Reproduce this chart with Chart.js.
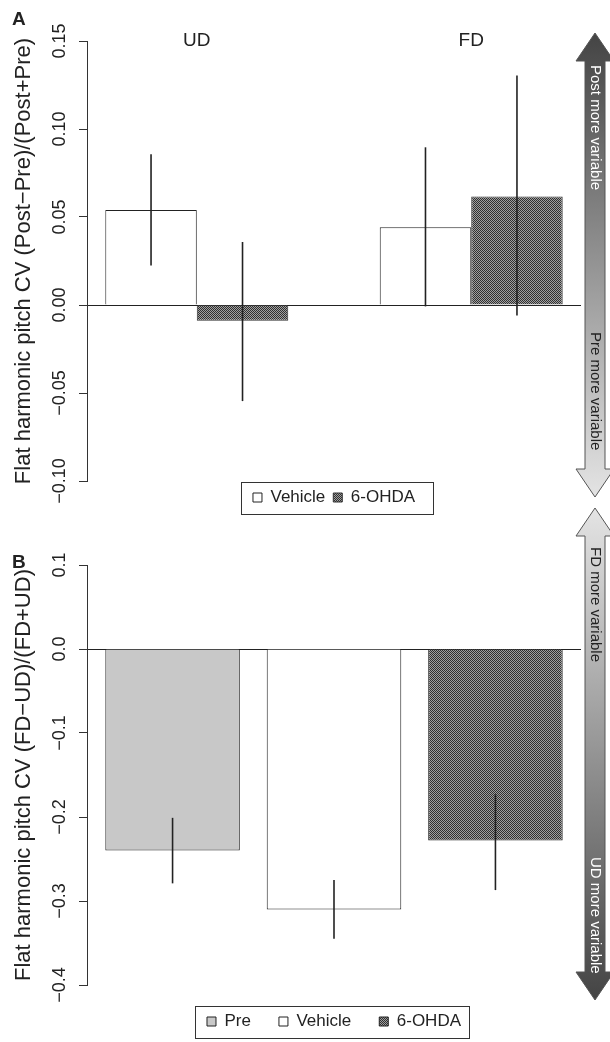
<!DOCTYPE html>
<html>
<head>
<meta charset="utf-8">
<script src="https://cdn.jsdelivr.net/npm/chart.js@4.4.1/dist/chart.umd.min.js"></script>
<style>
    html, body { margin: 0; padding: 0; background: #fff; overflow: hidden; }
    #wrap { position: relative; width: 610px; height: 1042px; }
    #chartA { position: absolute; left: 0; top: 0; }
    #chartB { position: absolute; left: 0; top: 500px; }
</style>
</head>
<body>
<div id="wrap">
    <canvas id="chartA" width="610" height="516"></canvas>
    <canvas id="chartB" width="610" height="540"></canvas>
</div>
<script>
// Panel A data: (Post-Pre)/(Post+Pre)
const groupsA = ['UD', 'FD'];
const vehicleA = [0.054, 0.0442];
const vehicleA_lo = [0.0224, -0.0008];
const vehicleA_hi = [0.0857, 0.0896];
const ohdaA = [-0.009, 0.0617];
const ohdaA_lo = [-0.0546, -0.0059];
const ohdaA_hi = [0.0358, 0.1304];
const ticksA = [-0.10, -0.05, 0.00, 0.05, 0.10, 0.15];

// Panel B data: (FD-UD)/(FD+UD)
const groupsB = ['Pre', 'Vehicle', '6-OHDA'];
const valuesB = [-0.240, -0.310, -0.228];
const valuesB_lo = [-0.279, -0.345, -0.287];
const valuesB_hi = [-0.201, -0.275, -0.173];
const ticksB = [-0.4, -0.3, -0.2, -0.1, 0.0, 0.1];

const FONT = '"Liberation Sans", Arial, Helvetica, sans-serif';
const INK = '#222';

Chart.defaults.font.family = FONT;
Chart.defaults.color = INK;

// fine checker fill used for 6-OHDA
function checkerPattern() {
    const c = document.createElement('canvas');
    c.width = 2; c.height = 2;
    const g = c.getContext('2d');
    g.fillStyle = '#a0a0a0';
    g.fillRect(0, 0, 2, 2);
    g.fillStyle = '#303030';
    g.fillRect(0, 0, 1, 1);
    g.fillRect(1, 1, 1, 1);
    return g.createPattern(c, 'repeat');
}
const ohdaFill = checkerPattern();

function minus(v, digits) {
    const s = Math.abs(v).toFixed(digits);
    return v < -1e-9 ? '\u2212' + s : s;
}

function toPoints(vals) {
    return vals.map((v, i) => ({ x: i, y: v }));
}

// error bars: arrays of [lo, hi] per dataset
const errorBars = {
    id: 'errorBars',
    afterDatasetsDraw(chart, args, opts) {
        const ctx = chart.ctx;
        const y = chart.scales.y;
        ctx.save();
        ctx.strokeStyle = INK;
        ctx.lineWidth = 1.6;
        opts.bars.forEach((pair, d) => {
            const meta = chart.getDatasetMeta(d);
            meta.data.forEach((bar, i) => {
                ctx.beginPath();
                ctx.moveTo(bar.x, y.getPixelForValue(pair[0][i]));
                ctx.lineTo(bar.x, y.getPixelForValue(pair[1][i]));
                ctx.stroke();
            });
        });
        ctx.restore();
    }
};

// box round the legend, like R's legend()
const legendFrame = {
    id: 'legendFrame',
    afterDraw(chart, args, opts) {
        const lg = chart.legend;
        if (!lg || !lg.legendHitBoxes.length) return;
        const hb = lg.legendHitBoxes;
        const last = hb[hb.length - 1];
        const ctx = chart.ctx;
        const left = hb[0].left - opts.padLeft;
        const right = last.left + last.width + opts.padRight;
        const mid = hb[0].top + hb[0].height / 2;
        ctx.save();
        ctx.strokeStyle = '#333';
        ctx.lineWidth = 1;
        ctx.strokeRect(Math.round(left) + 0.5, Math.round(mid - 16) + 0.5, Math.round(right - left), 32);
        ctx.restore();
    }
};

// panel letter, group labels and the side arrow
const decorations = {
    id: 'decorations',
    afterDraw(chart, args, opts) {
        const ctx = chart.ctx;
        ctx.save();
        ctx.fillStyle = INK;
        ctx.font = 'bold 19px ' + FONT;
        ctx.textAlign = 'left';
        ctx.textBaseline = 'alphabetic';
        ctx.fillText(opts.letter, 12, opts.letterY);

        if (opts.groupLabels) {
            const x = chart.scales.x;
            ctx.font = '19px ' + FONT;
            ctx.textAlign = 'center';
            ctx.textBaseline = 'middle';
            opts.groupLabels.forEach((t, i) => {
                ctx.fillText(t, x.getPixelForValue(i), chart.chartArea.top);
            });
        }

        const a = opts.arrow;
        const cx = a.cx, t = a.top, b = a.bottom, hw = 19, sw = 10, hh = 28;
        ctx.beginPath();
        ctx.moveTo(cx, t);
        ctx.lineTo(cx + hw, t + hh);
        ctx.lineTo(cx + sw, t + hh);
        ctx.lineTo(cx + sw, b - hh);
        ctx.lineTo(cx + hw, b - hh);
        ctx.lineTo(cx, b);
        ctx.lineTo(cx - hw, b - hh);
        ctx.lineTo(cx - sw, b - hh);
        ctx.lineTo(cx - sw, t + hh);
        ctx.lineTo(cx - hw, t + hh);
        ctx.closePath();
        const grad = ctx.createLinearGradient(0, t, 0, b);
        grad.addColorStop(0, a.colorTop);
        grad.addColorStop(1, a.colorBottom);
        ctx.fillStyle = grad;
        ctx.fill();
        ctx.strokeStyle = '#555';
        ctx.lineWidth = 1;
        ctx.stroke();

        ctx.font = '15px ' + FONT;
        ctx.textAlign = 'left';
        ctx.textBaseline = 'middle';
        a.texts.forEach(tx => {
            ctx.save();
            ctx.translate(cx, tx.y);
            ctx.rotate(Math.PI / 2);
            ctx.fillStyle = tx.color;
            ctx.fillText(tx.text, 0, 0);
            ctx.restore();
        });
        ctx.restore();
    }
};

function yAxis(min, max, step, digits, title, tickPad) {
    return {
        type: 'linear',
        min: min,
        max: max,
        afterFit: scale => { scale.width = 87; },
        ticks: {
            stepSize: step,
            minRotation: 90,
            maxRotation: 90,
            crossAlign: 'center',
            padding: tickPad,
            font: { size: 18 },
            color: INK,
            callback: v => minus(v, digits)
        },
        grid: {
            drawOnChartArea: true,
            drawTicks: true,
            tickLength: 8,
            color: c => (c.tick && Math.abs(c.tick.value) < 1e-9) ? INK : 'rgba(0,0,0,0)',
            tickColor: '#333',
            lineWidth: 1
        },
        border: { display: true, color: '#333', width: 1 },
        title: {
            display: true,
            text: title,
            font: { size: 22 },
            color: INK,
            padding: { top: 11, bottom: 0 }
        }
    };
}

function xAxis(min, max, count) {
    return {
        type: 'linear',
        display: false,
        offset: false,
        min: min,
        max: max,
        // ticks only at bar positions so bar width follows their spacing
        afterBuildTicks: scale => {
            scale.ticks = Array.from({ length: count }, (_, i) => ({ value: i }));
        }
    };
}

function legendOpts(pad) {
    return {
        display: true,
        position: 'bottom',
        fullSize: false,
        labels: {
            boxWidth: 9,
            boxHeight: 9,
            padding: pad,
            font: { size: 17 },
            color: INK
        }
    };
}

// Panel A
new Chart(document.getElementById('chartA'), {
    type: 'bar',
    data: {
        datasets: [
            {
                label: 'Vehicle',
                data: toPoints(vehicleA),
                backgroundColor: '#ffffff',
                borderColor: INK,
                borderWidth: 1,
                categoryPercentage: 2 / 3,
                barPercentage: 1
            },
            {
                label: '6-OHDA',
                data: toPoints(ohdaA),
                backgroundColor: ohdaFill,
                borderColor: '#333',
                borderWidth: 1,
                categoryPercentage: 2 / 3,
                barPercentage: 1
            }
        ]
    },
    options: {
        responsive: false,
        animation: false,
        devicePixelRatio: 1,
        layout: { padding: { top: 41, right: 29, bottom: 0, left: 0 } },
        scales: {
            x: xAxis(-0.4, 1.4, groupsA.length),
            y: yAxis(ticksA[0], ticksA[ticksA.length - 1], 0.05, 2,
                'Flat harmonic pitch CV (Post\u2212Pre)/(Post+Pre)', -4)
        },
        plugins: {
            legend: legendOpts(8),
            tooltip: { enabled: false },
            errorBars: { bars: [[vehicleA_lo, vehicleA_hi], [ohdaA_lo, ohdaA_hi]] },
            legendFrame: { padLeft: 12, padRight: 18 },
            decorations: {
                letter: 'A',
                letterY: 25,
                groupLabels: groupsA,
                arrow: {
                    cx: 595, top: 33, bottom: 497,
                    colorTop: '#444444', colorBottom: '#e4e4e4',
                    texts: [
                        { text: 'Post more variable', y: 65, color: '#ffffff' },
                        { text: 'Pre more variable', y: 332, color: INK }
                    ]
                }
            }
        }
    },
    plugins: [errorBars, legendFrame, decorations]
});

// Panel B
const fillsB = ['#c8c8c8', '#ffffff', ohdaFill];
new Chart(document.getElementById('chartB'), {
    type: 'bar',
    data: {
        datasets: groupsB.map((g, i) => ({
            label: g,
            data: [{ x: i, y: valuesB[i] }],
            backgroundColor: fillsB[i],
            borderColor: INK,
            borderWidth: 1,
            grouped: false,
            categoryPercentage: 1 / 1.2,
            barPercentage: 1
        }))
    },
    options: {
        responsive: false,
        animation: false,
        devicePixelRatio: 1,
        layout: { padding: { top: 65, right: 29, bottom: 0, left: 0 } },
        scales: {
            x: xAxis(-0.53, 2.53, groupsB.length),
            y: yAxis(ticksB[0], ticksB[ticksB.length - 1], 0.1, 1,
                'Flat harmonic pitch CV (FD\u2212UD)/(FD+UD)', 1)
        },
        plugins: {
            legend: legendOpts(28),
            tooltip: { enabled: false },
            errorBars: { bars: groupsB.map((g, i) => [[valuesB_lo[i]], [valuesB_hi[i]]]) },
            legendFrame: { padLeft: 12, padRight: 8 },
            decorations: {
                letter: 'B',
                letterY: 68,
                groupLabels: null,
                arrow: {
                    cx: 595, top: 8, bottom: 500,
                    colorTop: '#e4e4e4', colorBottom: '#444444',
                    texts: [
                        { text: 'FD more variable', y: 47, color: INK },
                        { text: 'UD more variable', y: 357, color: '#ffffff' }
                    ]
                }
            }
        }
    },
    plugins: [errorBars, legendFrame, decorations]
});
</script>
</body>
</html>
